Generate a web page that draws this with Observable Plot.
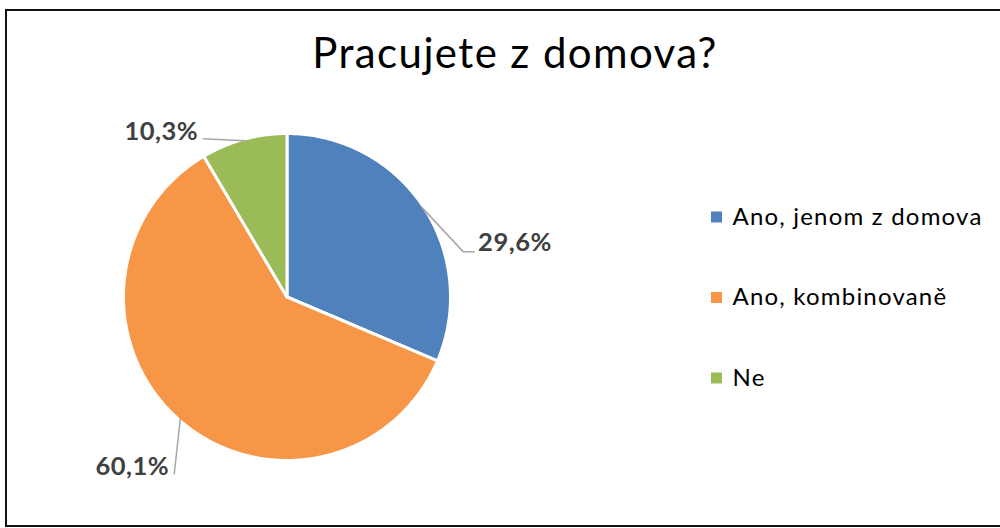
<!DOCTYPE html>
<html>
<head>
<meta charset="utf-8">
<script src="https://cdn.jsdelivr.net/npm/d3@7"></script>
<script src="https://cdn.jsdelivr.net/npm/@observablehq/plot@0.6"></script>
<style>
  html, body { margin: 0; padding: 0; background: #fff; }
  #wrap { position: relative; width: 1000px; height: 528px; overflow: hidden; }
  #title { height: 90px; box-sizing: border-box; padding-top: 31px; padding-left: 30px;
           font-family: Lato, "Open Sans", sans-serif; font-size: 42px; line-height: 1;
           letter-spacing: 1.4px; text-align: center; color: #000; }
  #frame { position: absolute; left: 5px; top: 9px; width: 1010px; height: 514px;
           border-left: 2px solid #111; border-top: 2px solid #111; border-bottom: 2px solid #111;
           pointer-events: none; }
  #chart svg { display: block; }
</style>
</head>
<body>
<div id="wrap">
  <div id="title">Pracujete z domova?</div>
  <div id="chart"></div>
  <div id="frame"></div>
</div>
<script>
// ---- data ----
const categories = ["Ano, jenom z domova", "Ano, kombinovaně", "Ne"];
const shares = [31.4, 60.1, 8.5];            // slice sizes as drawn
const labelTexts = ["29,6%", "60,1%", "10,3%"]; // data labels as printed
const colors = ["#4F81BD", "#F79646", "#9BBB59"];

// ---- layout (page pixel coordinates) ----
const W = 1000, H = 528, titleH = 90;
const cx = 286.5, cy = 296.5, R = 163.5;
const labelLayout = [
  {elbow: [41, 44], end: [52, 44], anchor: "start", dx: 4, dy: -1},
  {elbow: [-6, 55], end: [-6, 55], anchor: "end", dx: -5, dy: 1},
  {elbow: [-41, -2], end: [-41, -2], anchor: "end", dx: -5, dy: 1}
];
const legendX = 716, legendY0 = 216.5, legendStep = 80.5;

const arcs = d3.pie().sort(null).value(d => d)(shares);

// slice polygons
const slicePts = [];
arcs.forEach((a, i) => {
  const n = Math.max(2, Math.ceil((a.endAngle - a.startAngle) / 0.01));
  slicePts.push({name: categories[i], px: cx, py: cy});
  for (let k = 0; k <= n; k++) {
    const t = a.startAngle + (a.endAngle - a.startAngle) * k / n;
    slicePts.push({name: categories[i], px: cx + R * Math.sin(t), py: cy - R * Math.cos(t)});
  }
  slicePts.push({name: categories[i], px: cx, py: cy});
});

// leader lines and label anchors
const leaderPts = [];
const labels = [];
arcs.forEach((a, i) => {
  const m = (a.startAngle + a.endAngle) / 2;
  const r0 = R - 1.5;
  const sx = cx + r0 * Math.sin(m), sy = cy - r0 * Math.cos(m);
  const L = labelLayout[i];
  const ex = sx + L.end[0], ey = sy + L.end[1];
  leaderPts.push({k: i, px: sx, py: sy});
  leaderPts.push({k: i, px: sx + L.elbow[0], py: sy + L.elbow[1]});
  leaderPts.push({k: i, px: ex, py: ey});
  labels.push({text: labelTexts[i], px: ex + L.dx, py: ey + L.dy, anchor: L.anchor});
});

const legend = categories.map((c, i) => ({name: c, px: legendX, py: legendY0 + i * legendStep}));

const chart = Plot.plot({
  width: W,
  height: H - titleH,
  margin: 0,
  x: {domain: [0, W], range: [0, W], axis: null},
  y: {domain: [titleH, H], range: [0, H - titleH], axis: null},
  color: {domain: categories, range: colors},
  style: {background: "transparent", overflow: "visible"},
  marks: [
    Plot.line(slicePts, {x: "px", y: "py", z: "name", fill: "name", stroke: "white",
      strokeWidth: 3, strokeLinejoin: "round", curve: "linear"}),
    Plot.line(leaderPts, {x: "px", y: "py", z: "k", stroke: "#a6a6a6", strokeWidth: 1.5, curve: "linear"}),
    Plot.text(labels.filter(d => d.anchor === "start"), {x: "px", y: "py", text: "text",
      textAnchor: "start", lineAnchor: "bottom", fontSize: 25.5, fontWeight: "bold",
      fontFamily: "Lato, 'Open Sans', sans-serif", fill: "#404040"}),
    Plot.text(labels.filter(d => d.anchor === "end"), {x: "px", y: "py", text: "text",
      textAnchor: "end", lineAnchor: "bottom", fontSize: 25.5, fontWeight: "bold",
      fontFamily: "Lato, 'Open Sans', sans-serif", fill: "#404040"}),
    Plot.dot(legend, {x: "px", y: "py", fill: "name", symbol: "square", r: 6.2, stroke: null}),
    Plot.text(legend, {x: "px", y: "py", text: "name", dx: 16, textAnchor: "start",
      lineAnchor: "middle", fontSize: 24, fontFamily: "Lato, 'Open Sans', sans-serif", fill: "#000"})
  ]
});
// widen glyph spacing to match the reference's font metrics
const textGroups = chart.querySelectorAll('g[aria-label="text"]');
textGroups.forEach((g, i) => {
  g.style.letterSpacing = i < 2 ? "0.5px" : "1.2px";
});
document.getElementById("chart").appendChild(chart);
</script>
</body>
</html>
